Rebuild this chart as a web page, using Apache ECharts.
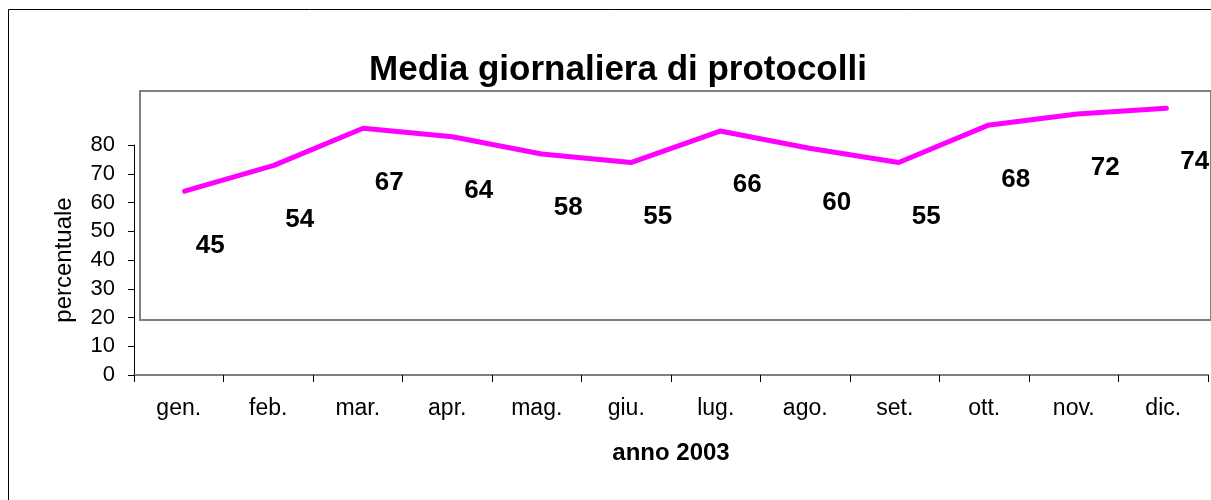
<!DOCTYPE html>
<html>
<head>
<meta charset="utf-8">
<script src="https://cdn.jsdelivr.net/npm/echarts@6/dist/echarts.min.js"></script>
<style>
  html, body { margin: 0; padding: 0; background: #fff; }
  #chart { width: 1211px; height: 500px; }
</style>
</head>
<body>
<div id="chart"></div>
<script>
// mesi del 2003
let mesi = ['gen.', 'feb.', 'mar.', 'apr.', 'mag.', 'giu.', 'lug.', 'ago.', 'set.', 'ott.', 'nov.', 'dic.']
// media giornaliera (valori delle etichette)
let media = [45, 54, 67, 64, 58, 55, 66, 60, 55, 68, 72, 74]
let yTicks = [0, 10, 20, 30, 40, 50, 60, 70, 80]

let font = 'Liberation Sans, Arial, sans-serif'
let chart = echarts.init(document.getElementById('chart'))

let option = {
  backgroundColor: '#fff',
  animation: false,
  title: {
    text: 'Media giornaliera di protocolli',
    left: 613,
    textAlign: 'center',
    top: 48,
    textStyle: { fontFamily: font, fontSize: 35, fontWeight: 'bold', color: '#000' }
  },
  graphic: [
    { // bordo esterno
      type: 'rect',
      shape: { x: 8.5, y: 9.5, width: 1230, height: 520 },
      style: { fill: 'none', stroke: '#000', lineWidth: 1 },
      silent: true
    }
  ],
  grid: [
    { left: 134, top: 145, width: 1074, height: 230 },
    { left: 140, top: 91, width: 1074, height: 229, show: true,
      borderColor: '#808080', borderWidth: 2, backgroundColor: 'transparent' }
  ],
  xAxis: [
    {
      gridIndex: 0,
      type: 'category',
      data: mesi,
      boundaryGap: true,
      name: 'anno 2003',
      nameLocation: 'middle',
      nameGap: 66,
      nameTextStyle: { fontFamily: font, fontSize: 24, fontWeight: 'bold', color: '#000' },
      axisLine: { lineStyle: { color: '#808080', width: 2 } },
      axisTick: { show: true, length: 7, lineStyle: { color: '#000' } },
      axisLabel: { fontFamily: font, fontSize: 23, color: '#000', margin: 22 }
    },
    {
      gridIndex: 1,
      type: 'category',
      data: mesi,
      boundaryGap: true,
      show: false
    }
  ],
  yAxis: [
    {
      gridIndex: 0,
      type: 'value',
      min: 0,
      max: 80,
      interval: 10,
      name: 'percentuale',
      nameLocation: 'middle',
      nameGap: 58,
      nameRotate: 90,
      nameTextStyle: { fontFamily: font, fontSize: 24, color: '#000' },
      axisLine: { show: true, lineStyle: { color: '#000', width: 1 } },
      axisTick: { show: true, length: 6, lineStyle: { color: '#000' } },
      axisLabel: { fontFamily: font, fontSize: 22, color: '#000', margin: 19,
        formatter: function (v) { return yTicks.indexOf(v) >= 0 ? String(v) : '' } },
      splitLine: { show: false }
    },
    {
      gridIndex: 1,
      type: 'value',
      min: 0,
      max: 80,
      show: false
    }
  ],
  series: [
    {
      name: 'linea',
      type: 'line',
      xAxisIndex: 1,
      yAxisIndex: 1,
      data: media,
      showSymbol: false,
      symbol: 'none',
      lineStyle: { color: '#ff00ff', width: 5, cap: 'round', join: 'round' },
      z: 5
    },
    {
      name: 'etichette',
      type: 'scatter',
      xAxisIndex: 0,
      yAxisIndex: 0,
      data: media,
      symbolSize: 1,
      itemStyle: { color: 'rgba(0,0,0,0)', opacity: 1 },
      label: {
        show: true,
        position: 'right',
        distance: 0,
        align: 'center',
        verticalAlign: 'middle',
        offset: [31, 0],
        fontFamily: font,
        fontSize: 26,
        fontWeight: 'bold',
        color: '#000'
      },
      z: 6
    }
  ]
}
chart.setOption(option)
</script>
</body>
</html>
